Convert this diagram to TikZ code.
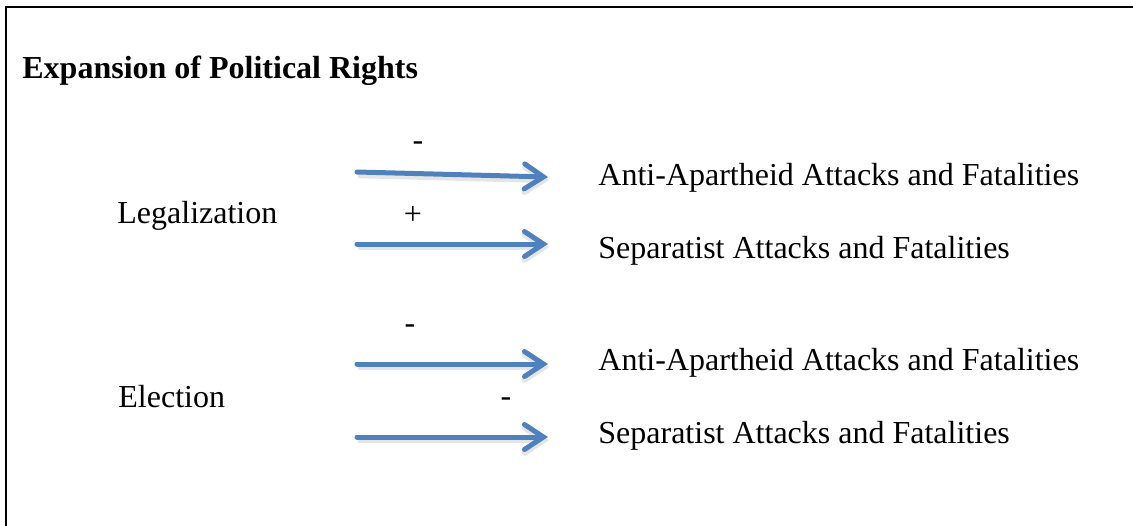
\documentclass[tikz,border=0pt]{standalone}
\usepackage{fontspec}
\setmainfont{Liberation Serif}
\usetikzlibrary{arrows.meta}
\definecolor{arrowblue}{RGB}{79,129,189}
\tikzset{
  effect/.style={draw=arrowblue, line width=2.5pt, line cap=round,
    -{Straight Barb[length=9.5pt,width=12.5pt,line cap=round]},
    preaction={draw=black!10, line width=3pt,
      transform canvas={shift={(0.6pt,-1.6pt)}}}},
  lbl/.style={anchor=base west, inner sep=0pt, font=\fontsize{16}{19}\selectfont},
  sign/.style={anchor=base, inner sep=0pt, font=\fontsize{16}{19}\selectfont}
}
\begin{document}
\begin{tikzpicture}[x=0.5pt,y=-0.5pt]
		\useasboundingbox (0,0) rectangle (1133,525);
		\draw[line width=1.2pt] (6,530)--(6,7)--(1140,7);
		
		\node[lbl, font=\fontsize{16}{19}\selectfont\bfseries] (title) at (22,78) {Expansion of Political Rights};
		
		\node[lbl] (legal) at (117,223) {Legalization};
		\node[lbl] (elect) at (118,407) {Election};
		
		\node[lbl] (antiA) at (598,185) {Anti-Apartheid Attacks and Fatalities};
		\node[lbl] (sepA) at (598,258) {Separatist Attacks and Fatalities};
		\node[lbl] (antiB) at (598,370) {Anti-Apartheid Attacks and Fatalities};
		\node[lbl] (sepB) at (598,443) {Separatist Attacks and Fatalities};
		
		\coordinate (a1) at (357,172);
		\coordinate (b1) at (548,177);
		\coordinate (a2) at (357,244);
		\coordinate (b2) at (548,244);
		\coordinate (a3) at (357,364);
		\coordinate (b3) at (548,364);
		\coordinate (a4) at (357,437);
		\coordinate (b4) at (548,437);
		\draw[effect] (a1)--(b1);
		\draw[effect] (a2)--(b2);
		\draw[effect] (a3)--(b3);
		\draw[effect] (a4)--(b4);
		
		\node[sign] (s1) at (418,150) {-};
		\node[sign] (s2) at (413,224) {+};
		\node[sign] (s3) at (410,333) {-};
		\node[sign] (s4) at (506,406) {-};
		
		\end{tikzpicture}
\end{document}
